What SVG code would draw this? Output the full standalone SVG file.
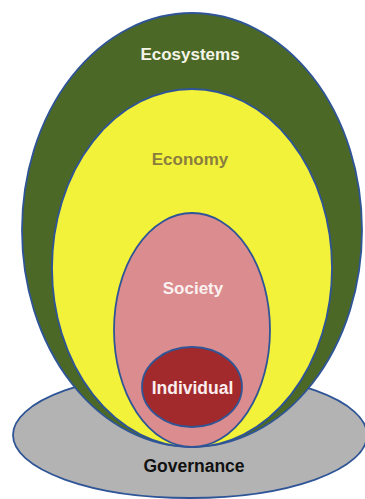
<svg xmlns="http://www.w3.org/2000/svg" width="365" height="499" viewBox="0 0 365 499">
<style>
.sh{stroke:#2f5597;stroke-width:1.8}
.t{font-family:"Liberation Sans",Arial,sans-serif;font-weight:bold;text-anchor:middle}
</style>
<rect width="365" height="499" fill="#ffffff"/>
<g id="governance">
<ellipse class="sh" cx="190" cy="435" rx="177" ry="63" fill="#b3b3b3"/>
<text class="t" x="194" y="472" font-size="17.5" fill="#111111">Governance</text>
</g>
<g id="ecosystems">
<ellipse class="sh" cx="192" cy="230" rx="170" ry="217" fill="#4c6826"/>
<text class="t" x="190" y="60" font-size="17" fill="#f4f4e8">Ecosystems</text>
</g>
<g id="economy">
<ellipse class="sh" cx="192" cy="268" rx="140" ry="179" fill="#f2f23a"/>
<text class="t" x="190" y="165" font-size="17" fill="#8a7d3e">Economy</text>
</g>
<g id="society">
<ellipse class="sh" cx="192" cy="330" rx="78" ry="117" fill="#da8c8e"/>
<text class="t" x="193" y="294" font-size="17" fill="#fbf1f1">Society</text>
</g>
<g id="individual">
<ellipse class="sh" cx="192" cy="387" rx="50" ry="40" fill="#a32a2c"/>
<text class="t" x="192.5" y="394" font-size="17.5" fill="#fbeeee">Individual</text>
</g>
<g id="connectors"></g>
</svg>
